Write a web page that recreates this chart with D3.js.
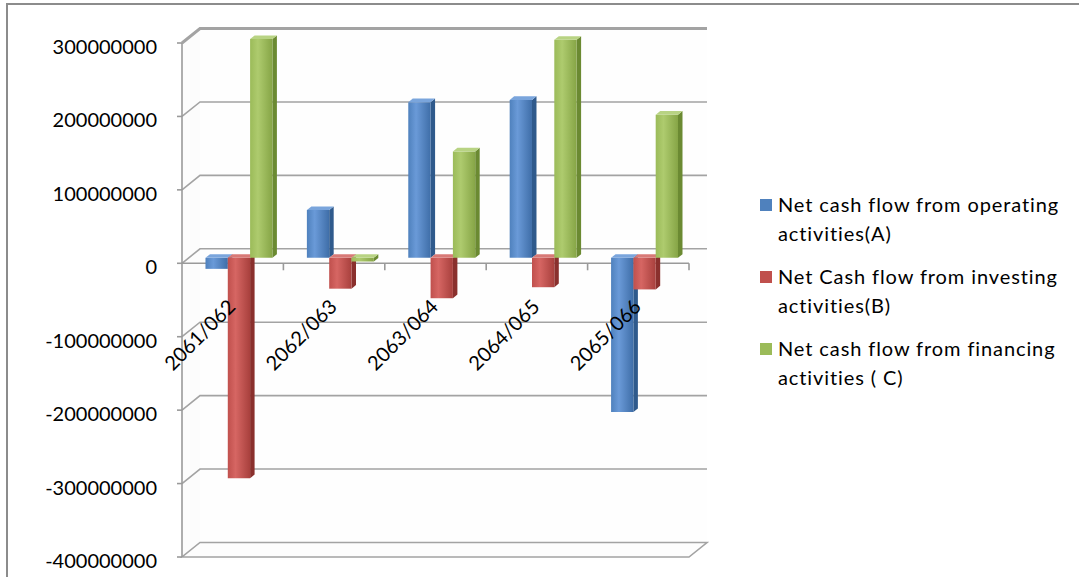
<!DOCTYPE html>
<html>
<head>
<meta charset="utf-8">
<script src="https://cdn.jsdelivr.net/npm/d3@7"></script>
<style>
  body { margin: 0; background: #fff; }
  svg { display: block; }
  text { font-family: Lato, "Open Sans", sans-serif; fill: #000; }
</style>
</head>
<body>
<svg id="chart" width="1079" height="577"></svg>
<script>
// Fiscal years (Nepali calendar)
const categories = ["2061/062", "2062/063", "2063/064", "2064/065", "2065/066"];

// Cash flow series
const operating = [-15000000, 65000000, 212000000, 215000000, -210000000];
const investing = [-300000000, -42000000, -55000000, -40000000, -43000000];
const financing = [298000000, -5000000, 145000000, 297000000, 195000000];

const seriesLabels = [
  ["Net cash flow from operating", "activities(A)"],
  ["Net Cash flow from investing", "activities(B)"],
  ["Net cash flow from financing", "activities ( C)"]
];

const yTicks = [300000000, 200000000, 100000000, 0, -100000000, -200000000, -300000000, -400000000];

const seriesColors = [
  { front: ["#6a9ad8", "#4f81bd", "#3f6ea8"], side: "#2f5a8c", top: "#7aa5dc" },
  { front: ["#d66663", "#c0504d", "#a8403d"], side: "#8a302d", top: "#d87a77" },
  { front: ["#aecb6e", "#9bbb59", "#86a546"], side: "#6b8a32", top: "#b8d383" }
];
const seriesValues = [operating, investing, financing];

const svg = d3.select("#chart");

// Outer chart frame
svg.append("path")
  .attr("d", "M7,577 L7,4 L1079,4")
  .attr("fill", "none").attr("stroke", "#8c8c8c").attr("stroke-width", 2);

// 3D plot geometry: front plane and depth offset
const DX = 18, DY = 14.5;
const y = d3.scaleLinear().domain([-400000000, 300000000]).range([557, 43]);
const x = d3.scaleBand().domain(categories).range([182, 689]);
const bw = x.bandwidth();
const xs = d3.scaleBand().domain(d3.range(seriesValues.length)).range([bw * 0.165, bw * 0.825]);

const P = (px, v, z) => [px + z * DX, y(v) - z * DY];
const poly = pts => "M" + pts.map(p => p.join(",")).join("L") + "Z";

const x0 = x.range()[0], x1 = x.range()[1];
const yMin = y.domain()[0], yMax = y.domain()[1];

// Walls
const walls = svg.append("g");
walls.append("path")
  .attr("d", poly([P(x0, yMax, 1), P(x1, yMax, 1), P(x1, yMin, 1), P(x0, yMin, 1)]))
  .attr("fill", "#fefefe");
walls.append("path")
  .attr("d", poly([P(x0, yMax, 0), P(x0, yMax, 1), P(x0, yMin, 1), P(x0, yMin, 0)]))
  .attr("fill", "#fcfcfc");

// Gridlines on back and side walls
const grid = svg.append("g").attr("fill", "none").attr("stroke", "#a3a3a3");
yTicks.filter(t => t !== yMin).forEach(t => {
  const w = t === yMax ? 3 : 1.6;
  grid.append("path")
    .attr("d", "M" + P(x0, t, 0).join(",") + "L" + P(x0, t, 1).join(",") + "L" + P(x1, t, 1).join(","))
    .attr("stroke-width", w);
});

// Floor
svg.append("path")
  .attr("d", poly([P(x0, yMin, 0), P(x1, yMin, 0), P(x1, yMin, 1), P(x0, yMin, 1)]))
  .attr("fill", "#fdfdfd").attr("stroke", "#a3a3a3").attr("stroke-width", 1.6);

// Value axis
const axisG = svg.append("g").attr("stroke", "#9a9a9a").attr("stroke-width", 1.6);
axisG.append("line").attr("x1", x0).attr("x2", x0).attr("y1", y(yMax)).attr("y2", y(yMin));
yTicks.forEach(t => {
  axisG.append("line").attr("x1", x0 - 5).attr("x2", x0).attr("y1", y(t)).attr("y2", y(t));
});
svg.append("g").selectAll("text").data(yTicks).join("text")
  .attr("x", 157).attr("y", d => y(d) + 3)
  .attr("text-anchor", "end").attr("dominant-baseline", "central")
  .attr("font-size", 20)
  .text(d => String(d));

// Category axis along the zero plane
axisG.append("line").attr("x1", x0).attr("x2", x1).attr("y1", y(0)).attr("y2", y(0));
categories.forEach(c => {
  const bx = x(c) + bw;
  axisG.append("line").attr("x1", bx).attr("x2", bx).attr("y1", y(0)).attr("y2", y(0) + 7);
});

// Gradients for bar fronts
const defs = svg.append("defs");
seriesColors.forEach((sc, i) => {
  const g = defs.append("linearGradient").attr("id", "front" + i)
    .attr("x1", "0").attr("x2", "1").attr("y1", "0").attr("y2", "0");
  g.append("stop").attr("offset", "0").attr("stop-color", sc.front[1]);
  g.append("stop").attr("offset", "0.35").attr("stop-color", sc.front[0]);
  g.append("stop").attr("offset", "1").attr("stop-color", sc.front[2]);
});

// 3D columns, drawn left to right so later faces cover earlier side faces
const Z0 = 0.375, Z1 = 0.625;
const bars = svg.append("g");
categories.forEach((c, ci) => {
  seriesValues.forEach((vals, si) => {
    const v = vals[ci];
    const xl = x(c) + xs(si), xr = xl + xs.bandwidth();
    const top = Math.max(v, 0);
    const sc = seriesColors[si];
    const g = bars.append("g");
    g.append("path")
      .attr("d", poly([P(xr, 0, Z0), P(xr, v, Z0), P(xr, v, Z1), P(xr, 0, Z1)]))
      .attr("fill", sc.side);
    g.append("path")
      .attr("d", poly([P(xl, 0, Z0), P(xr, 0, Z0), P(xr, v, Z0), P(xl, v, Z0)]))
      .attr("fill", `url(#front${si})`);
    g.append("path")
      .attr("d", poly([P(xl, top, Z0), P(xr, top, Z0), P(xr, top, Z1), P(xl, top, Z1)]))
      .attr("fill", sc.top);
  });
});

// Category labels
svg.append("g").selectAll("text").data(categories).join("text")
  .attr("transform", d => `translate(${x(d) + bw / 2 + 4},308) rotate(-45)`)
  .attr("text-anchor", "end")
  .attr("font-size", 20)
  .text(d => d);

// Legend
const legend = svg.append("g");
seriesLabels.forEach((lines, i) => {
  const top = 199 + i * 72;
  legend.append("rect")
    .attr("x", 760).attr("y", top).attr("width", 12).attr("height", 12)
    .attr("fill", seriesColors[i].front[1]);
  lines.forEach((ln, li) => {
    legend.append("text")
      .attr("x", 778).attr("y", top + 13 + li * 28.5)
      .attr("font-size", 20)
      .attr("letter-spacing", 0.9)
      .text(ln);
  });
});
</script>
</body>
</html>
